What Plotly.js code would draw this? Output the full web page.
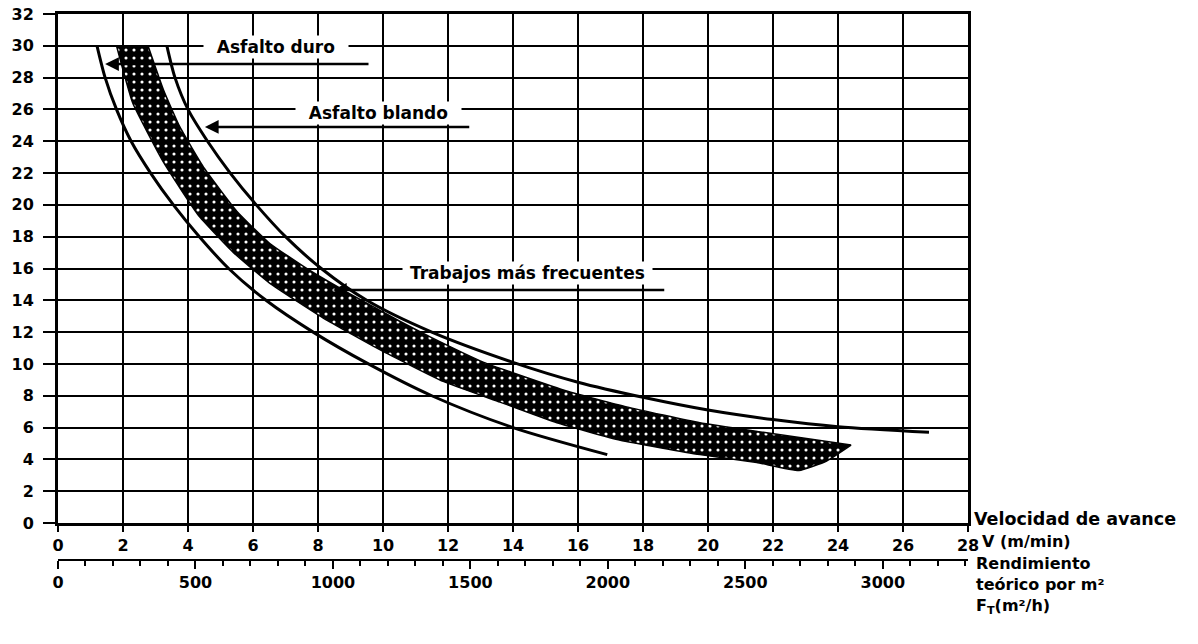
<!DOCTYPE html>
<html>
<head>
<meta charset="utf-8">
<script src="https://cdn.plot.ly/plotly-3.0.1.min.js"></script>
<style>
  html, body { margin: 0; padding: 0; background: #fff; }
  #chart { width: 1198px; height: 644px; }
</style>
</head>
<body>
<div id="chart"></div>
<script>
// ---- Data ----
// Curve "Asfalto duro" (lower-left boundary curve)
const duroX = [1.2, 1.45, 1.8, 2.25, 2.85, 3.55, 4.35, 5.25, 6.4, 7.85, 9.55, 11.5, 14.0, 16.9];
const duroY = [30, 28, 26, 24, 22, 20, 18, 16, 14, 12, 10, 8, 6, 4.3];

// Curve "Asfalto blando" (upper-right boundary curve)
const blandoX = [3.35, 3.6, 4.0, 4.6, 5.3, 6.1, 7.0, 8.1, 9.5, 11.5, 14.0, 16.0, 18.0, 20.0, 22.0, 24.0, 26.8];
const blandoY = [30, 28, 26, 24, 22, 20, 18, 16, 14, 12.0, 10.1, 8.85, 7.9, 7.1, 6.5, 6.05, 5.7];

// Band "Trabajos más frecuentes": lower edge and upper edge
const bandLowX = [1.8, 2.3, 3.24, 4.3, 5.4, 6.5, 8.15, 9.9, 11.85, 13.6, 15.35, 17.3, 19.75, 21.5, 22.8, 23.65, 24.4];
const bandLowY = [30, 26.4, 22.7, 19.4, 17.0, 15.1, 12.9, 10.9, 8.9, 7.6, 6.3, 5.2, 4.3, 3.8, 3.3, 3.9, 4.9];
const bandHighX = [2.77, 3.25, 3.75, 4.5, 5.5, 6.5, 7.65, 8.9, 10.5, 11.45, 13.1, 15.65, 17.5, 19.75, 21.7, 24.4];
const bandHighY = [30, 27.2, 24.9, 22.3, 19.6, 17.6, 16.0, 14.5, 12.7, 11.7, 10.1, 8.3, 7.3, 6.3, 5.7, 4.9];

// Axis texts
const xMainLabel = ['Velocidad de avance', 'V (m/min)'];
const xSecLabel = ['Rendimiento', 'teórico por m²', 'F<sub>T</sub>(m²/h)'];
const labelDuro = 'Asfalto duro';
const labelBlando = 'Asfalto blando';
const labelTrabajos = 'Trabajos más frecuentes';

// ---- Build traces ----
const bandX = bandLowX.concat(bandHighX.slice().reverse());
const bandY = bandLowY.concat(bandHighY.slice().reverse());

const FONT = 'DejaVu Sans';
const boldFont = (s) => ({ family: FONT, size: s, color: '#000', weight: 'bold' });

const traces = [
  {
    x: bandX, y: bandY, type: 'scatter', mode: 'lines', fill: 'toself',
    fillcolor: '#000',
    fillpattern: { shape: '.', bgcolor: '#000', fgcolor: '#fff', size: 8, solidity: 0.12 },
    line: { color: '#000', width: 1.5, shape: 'spline', smoothing: 0.4 },
    hoverinfo: 'skip', showlegend: false
  },
  {
    x: duroX, y: duroY, type: 'scatter', mode: 'lines',
    line: { color: '#000', width: 3, shape: 'spline', smoothing: 0.8 },
    showlegend: false, name: labelDuro
  },
  {
    x: blandoX, y: blandoY, type: 'scatter', mode: 'lines',
    line: { color: '#000', width: 3, shape: 'spline', smoothing: 0.8 },
    showlegend: false, name: labelBlando
  },
  { x: [], y: [], xaxis: 'x2', yaxis: 'y', type: 'scatter', showlegend: false }
];

// plot geometry helpers (pixel -> paper) for the outer texts
const L = 58, R = 230, T = 14, B = 84, W = 1198, H = 644;
const pw = W - L - R, ph = H - T - B;
const px = (p) => (p - L) / pw;
const py = (p) => (H - B - p) / ph;

const arrow = { axref: 'x', ayref: 'y', xref: 'x', yref: 'y', text: '', showarrow: true,
  arrowhead: 2, arrowsize: 1.1, arrowwidth: 2.5, arrowcolor: '#000', standoff: 0 };

const annotations = [
  // arrows (drawn from tail to head)
  Object.assign({ x: 1.45, y: 28.85, ax: 9.6, ay: 28.85 }, arrow),
  Object.assign({ x: 4.52, y: 24.9, ax: 12.7, ay: 24.9 }, arrow),
  Object.assign({ x: 8.46, y: 14.65, ax: 18.7, ay: 14.65 }, arrow),
  // labels
  { x: 6.7, y: 29.9, xref: 'x', yref: 'y', text: '\u00a0\u00a0' + labelDuro + '\u00a0\u00a0', showarrow: false,
    font: boldFont(17), bgcolor: '#fff', borderpad: 1 },
  { x: 9.85, y: 25.8, xref: 'x', yref: 'y', text: '\u00a0\u00a0' + labelBlando + '\u00a0\u00a0', showarrow: false,
    font: boldFont(17), bgcolor: '#fff', borderpad: 1 },
  { x: 14.46, y: 15.72, xref: 'x', yref: 'y', text: '\u00a0' + labelTrabajos + '\u00a0', showarrow: false,
    font: boldFont(17), bgcolor: '#fff', borderpad: 1 },
  // outer axis texts
  { x: px(972), y: py(519), xref: 'paper', yref: 'paper', xanchor: 'left', yanchor: 'middle',
    text: xMainLabel[0], showarrow: false, font: boldFont(17.5) },
  { x: px(980), y: py(541), xref: 'paper', yref: 'paper', xanchor: 'left', yanchor: 'middle',
    text: xMainLabel[1], showarrow: false, font: boldFont(16) },
  { x: px(974), y: py(563), xref: 'paper', yref: 'paper', xanchor: 'left', yanchor: 'middle',
    text: xSecLabel[0], showarrow: false, font: boldFont(16) },
  { x: px(974), y: py(584), xref: 'paper', yref: 'paper', xanchor: 'left', yanchor: 'middle',
    text: xSecLabel[1], showarrow: false, font: boldFont(16) },
  { x: px(974), y: py(606), xref: 'paper', yref: 'paper', xanchor: 'left', yanchor: 'middle',
    text: xSecLabel[2], showarrow: false, font: boldFont(16) }
];

const layout = {
  width: W, height: H,
  margin: { l: L, r: R, t: T, b: B, pad: 0 },
  paper_bgcolor: '#fff', plot_bgcolor: '#fff',
  showlegend: false,
  xaxis: {
    range: [0, 28], dtick: 2, tick0: 0, anchor: 'y',
    showgrid: true, gridcolor: '#000', gridwidth: 2,
    showline: true, linecolor: '#000', linewidth: 3, mirror: true,
    zeroline: false, ticks: 'outside', ticklen: 6, tickwidth: 2, tickcolor: '#000',
    tickfont: boldFont(16), ticklabelstandoff: 0, fixedrange: true
  },
  xaxis2: {
    overlaying: 'x', anchor: 'free', position: 0, side: 'bottom',
    range: [0, 3310], dtick: 500, tick0: 0,
    showgrid: false, zeroline: false,
    showline: true, linecolor: '#000', linewidth: 2,
    ticks: 'outside', ticklen: 8, tickwidth: 2, tickcolor: '#000',
    minor: { dtick: 100, ticks: 'outside', ticklen: 5, tickwidth: 2, tickcolor: '#000', showgrid: false },
    tickfont: boldFont(16), ticklabelstandoff: 0, fixedrange: true
  },
  yaxis: {
    range: [0, 32], dtick: 2, tick0: 0, domain: [(H - B - 523) / ph, 1],
    showgrid: true, gridcolor: '#000', gridwidth: 2,
    showline: true, linecolor: '#000', linewidth: 3, mirror: true,
    zeroline: false, ticks: 'outside', ticklen: 12, tickwidth: 2, tickcolor: '#000',
    tickfont: boldFont(16), ticklabelstandoff: 6, fixedrange: true
  },
  annotations: annotations
};

Plotly.newPlot('chart', traces, layout, { staticPlot: true, displayModeBar: false });
</script>
</body>
</html>
